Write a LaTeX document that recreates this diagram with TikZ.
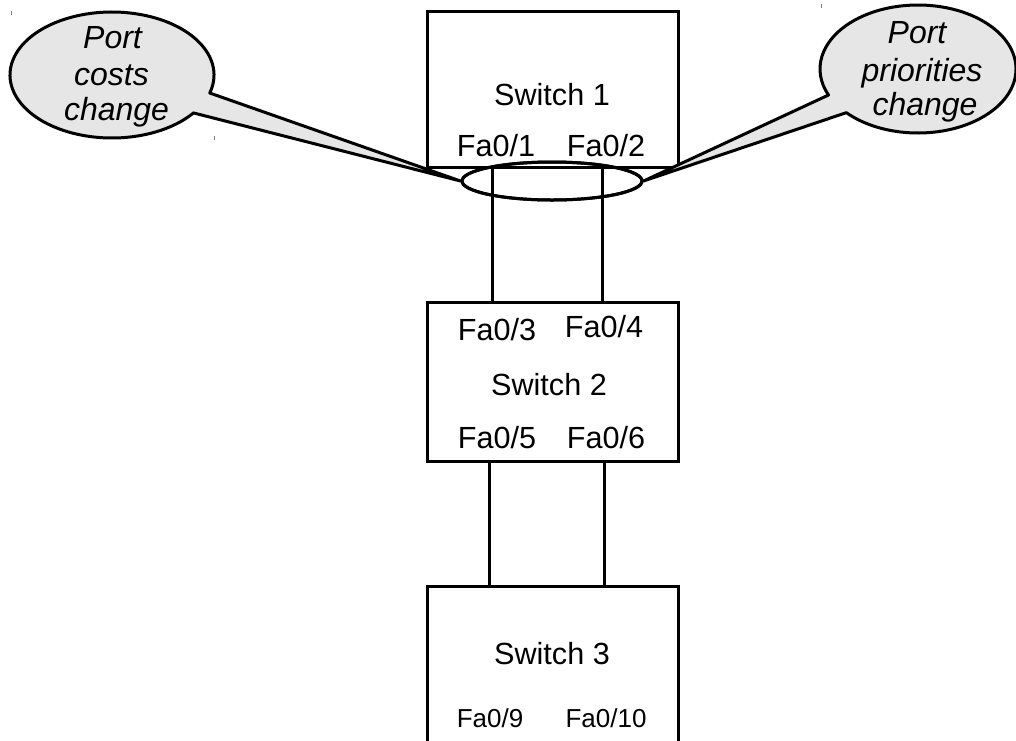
\documentclass[tikz,border=0pt]{standalone}
\usepackage{fontspec}
\setmainfont{Liberation Sans}
\usetikzlibrary{shapes.geometric,calc}

\definecolor{bubblegray}{HTML}{E6E6E6}

\tikzset{
  switchbox/.style={draw, line width=3pt, minimum width=251pt, inner sep=0pt},
  lbl/.style={inner sep=0pt, anchor=base, font=\fontsize{30.6}{36}\selectfont},
  smalllbl/.style={inner sep=0pt, anchor=base, font=\fontsize{26}{30}\selectfont},
  bubbletxt/.style={inner sep=0pt, anchor=base, font=\fontsize{32}{38}\selectfont\itshape},
  link/.style={line width=3pt},
  bubble/.style={draw, line width=3pt, fill=bubblegray, line join=round},
  group/.style={ellipse, draw, line width=3pt, minimum width=180pt, minimum height=38pt, inner sep=0pt},
  tick/.style={draw=gray, line width=1pt}
}

\begin{document}
\begin{tikzpicture}[x=1pt,y=1pt]
  \useasboundingbox (0,0) rectangle (1016,-740);
  \clip (0,0) rectangle (1016,-740);

  % switches
  \node[switchbox, minimum height=156pt] (sw1) at (552.5,-89) {};
  \node[switchbox, minimum height=159pt] (sw2) at (552.5,-381.5) {};
  \node[switchbox, minimum height=220pt] (sw3) at (552.5,-696) {};

  % labels inside the switches (placed by baseline)
  \node[lbl] (sw1name) at (552,-105) {Switch 1};
  \node[lbl] (fa01) at (496,-156) {Fa0/1};
  \node[lbl] (fa02) at (606,-156) {Fa0/2};

  \node[lbl] (fa03) at (497,-340) {Fa0/3};
  \node[lbl] (fa04) at (604,-337) {Fa0/4};
  \node[lbl] (sw2name) at (549,-395) {Switch 2};
  \node[lbl] (fa05) at (497,-448) {Fa0/5};
  \node[lbl] (fa06) at (606,-448) {Fa0/6};

  \node[lbl] (sw3name) at (552,-664) {Switch 3};
  \node[smalllbl] (fa09) at (490,-727) {Fa0/9};
  \node[smalllbl] (fa010) at (606,-727) {Fa0/10};

  % port attachment points
  \coordinate (p1) at (sw1.south -| 492,0);
  \coordinate (p2) at (sw1.south -| 602,0);
  \coordinate (p3) at (sw2.north -| 492,0);
  \coordinate (p4) at (sw2.north -| 602,0);
  \coordinate (p5) at (sw2.south -| 489,0);
  \coordinate (p6) at (sw2.south -| 604,0);
  \coordinate (p9) at (sw3.north -| 489,0);
  \coordinate (p10) at (sw3.north -| 604,0);

  % links
  \draw[link] (p1) -- (p3);
  \draw[link] (p2) -- (p4);
  \draw[link] (p5) -- (p9);
  \draw[link] (p6) -- (p10);

  % group of the two ports on switch 1
  \node[group] (grp) at (552,-181) {};

  % callouts
  \coordinate (lc) at (112,-75);
  \draw[bubble] ($(lc)+(-16.6:102pt and 63pt)$)
    arc[start angle=-16.6, end angle=323, x radius=102pt, y radius=63pt]
    -- (grp.west) -- cycle;
  \coordinate (rc) at (918,-69);
  \draw[bubble] ($(rc)+(223:98pt and 64pt)$)
    arc[start angle=223, end angle=564, x radius=98pt, y radius=64pt]
    -- (grp.east) -- cycle;
  \node[group] at (grp) {};

  \node[bubbletxt] (lt1) at (112.5,-48) {Port};
  \node[bubbletxt] (lt2) at (111.5,-85) {costs};
  \node[bubbletxt] (lt3) at (116.5,-120) {change};

  \node[bubbletxt] (rt1) at (917,-43) {Port};
  \node[bubbletxt] (rt2) at (922,-81) {priorities};
  \node[bubbletxt] (rt3) at (925,-115) {change};

  % small marks
  \draw[tick] (11,-11) -- (11,-15);
  \draw[tick] (214,-136) -- (214,-140);
  \draw[tick] (821,-4) -- (821,-8);
\end{tikzpicture}
\end{document}
